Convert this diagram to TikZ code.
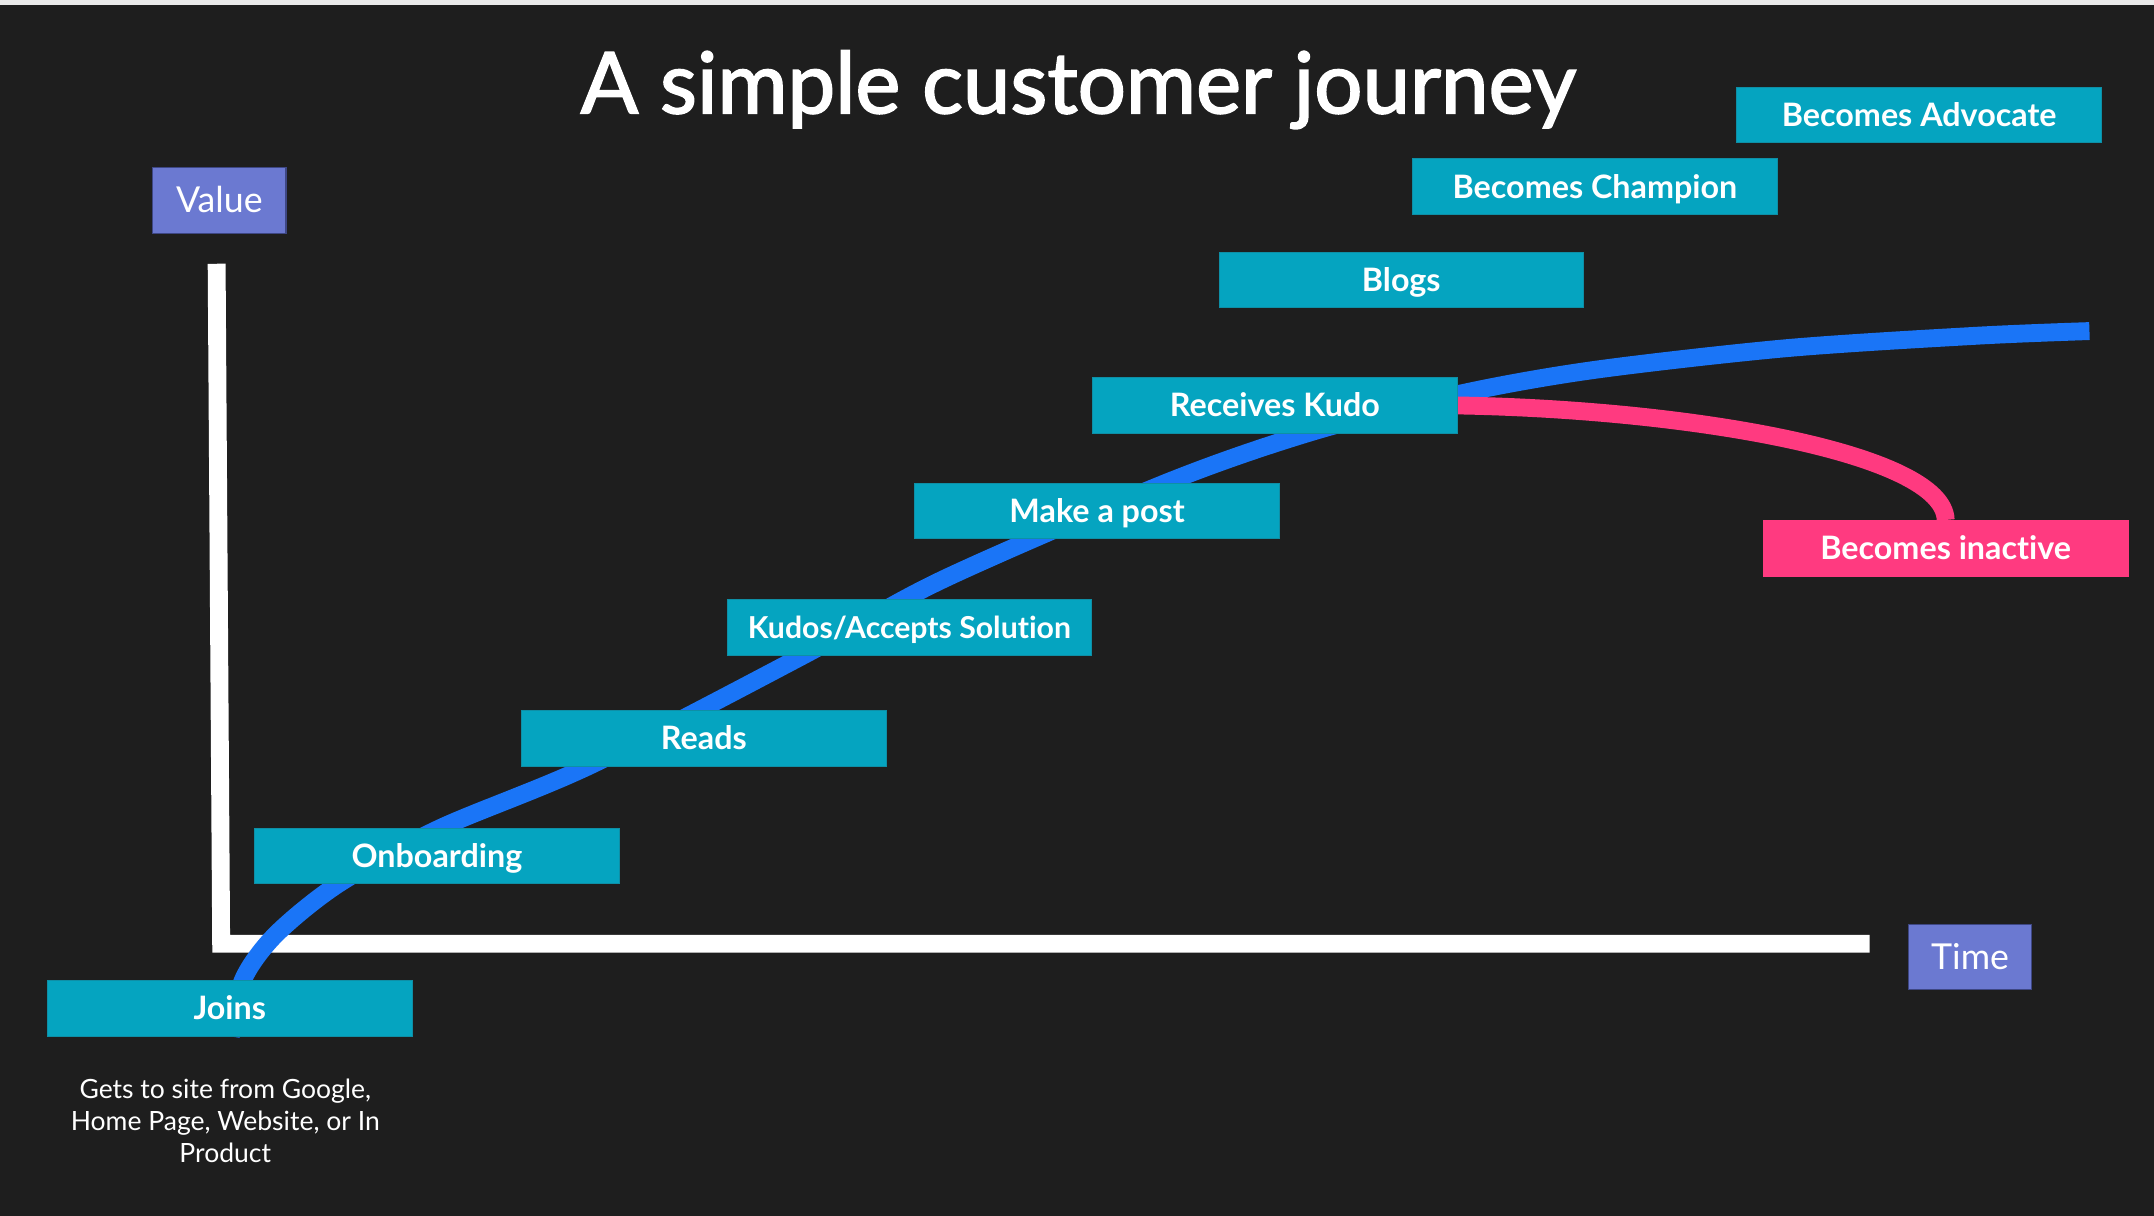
\documentclass[tikz,border=0pt]{standalone}
\usepackage{fontspec}
\setmainfont{Lato}[Ligatures=NoCommon]
\newfontfamily\titlefont{Lato}[Ligatures=NoCommon, FakeBold=2]
\pgfdeclarelayer{bgl}
\pgfdeclarelayer{lines}
\pgfsetlayers{bgl,lines,main}
\definecolor{cBg}{HTML}{1E1E1E}
\definecolor{cStrip}{HTML}{EAEAEA}
\definecolor{cTeal}{HTML}{05A4C0}
\definecolor{cTealD}{HTML}{0E8FA6}
\definecolor{cPurple}{HTML}{6B79D1}
\definecolor{cPurpleD}{HTML}{3E4784}
\definecolor{cPink}{HTML}{FF3A80}
\definecolor{cBlue}{HTML}{1A75F7}
\begin{document}
\begin{tikzpicture}[x=1pt,y=-1pt,
  stage/.style={rectangle, fill=cTeal, draw=cTealD, line width=0.6pt,
    minimum width=265.5pt, minimum height=40.5pt, inner sep=0pt, anchor=north west,
    text=white, font=\bfseries\fontsize{23.5}{28}\selectfont,
    text height=16.8pt, text depth=0pt},
  lost/.style={stage, fill=cPink, draw=cPink},
  axislabel/.style={rectangle, fill=cPurple, draw=cPurpleD, line width=0.8pt,
    inner sep=0pt, anchor=north west, text=white,
    font=\fontsize{26}{30}\selectfont, text height=18.6pt, text depth=0pt},
  axisline/.style={draw=white, line width=13pt, line join=miter, line cap=butt},
  journey/.style={draw=cBlue, line width=13pt, line cap=butt},
  dropout/.style={draw=cPink, line width=13pt, line cap=butt},
]
\begin{pgfonlayer}{bgl}
  \fill[cBg] (0,0) rectangle (1568,885);
  \fill[cStrip] (0,0) rectangle (1568,4);
\end{pgfonlayer}
\useasboundingbox (0,0) rectangle (1568,885);

\node[text=white, font=\titlefont\fontsize{62}{70}\selectfont, anchor=base, inner sep=0pt]
  (title) at (785,82.5) {A simple customer journey};

\node[axislabel, minimum width=97pt, minimum height=48pt] (value) at (110.8,121.3) {Value};
\node[axislabel, minimum width=90pt, minimum height=47.5pt] (time) at (1388.7,672.6) {Time};

\node[stage] (advocate) at (1264,63) {Becomes Advocate};
\node[stage] (champion) at (1028,115.3) {Becomes Champion};
\node[stage] (blogs) at (887,183.2) {Blogs};
\node[stage] (kudo) at (795,274.6) {Receives Kudo};
\node[stage] (post) at (665.6,351.4) {Make a post};
\node[stage, font=\bfseries\fontsize{22}{26}\selectfont, text height=15.8pt] (kudos) at (529,436) {Kudos/Accepts Solution};
\node[stage] (reads) at (379.3,516.8) {Reads};
\node[stage] (onboard) at (185,602.5) {Onboarding};
\node[stage] (joins) at (34.2,713.4) {Joins};
\node[lost] (inactive) at (1283.3,378.5) {Becomes inactive};

\node[text=white, align=center, anchor=north, inner sep=0pt,
  font=\fontsize{19.3}{23.3}\selectfont] (note) at (164,785.5)
  {Gets to site from Google,\\Home Page, Website, or In\\Product};

\begin{pgfonlayer}{lines}
  \path[axisline] (157.7,192) -- (161,687) -- (1361,687);
  \path[journey] plot[smooth, tension=0.5] coordinates {(168,754.5) (177,713) (201,680) (247,643) (320,603) (430,557) (585,477) (686,422) (850,351) (953,315) (1061,287) (1159,269.5) (1300,253.5) (1439,244.4) (1521,241)};
  \path[dropout] (kudo.east) .. controls (1230,298) and (1415,330) .. (inactive.north);
\end{pgfonlayer}
\end{tikzpicture}
\end{document}
